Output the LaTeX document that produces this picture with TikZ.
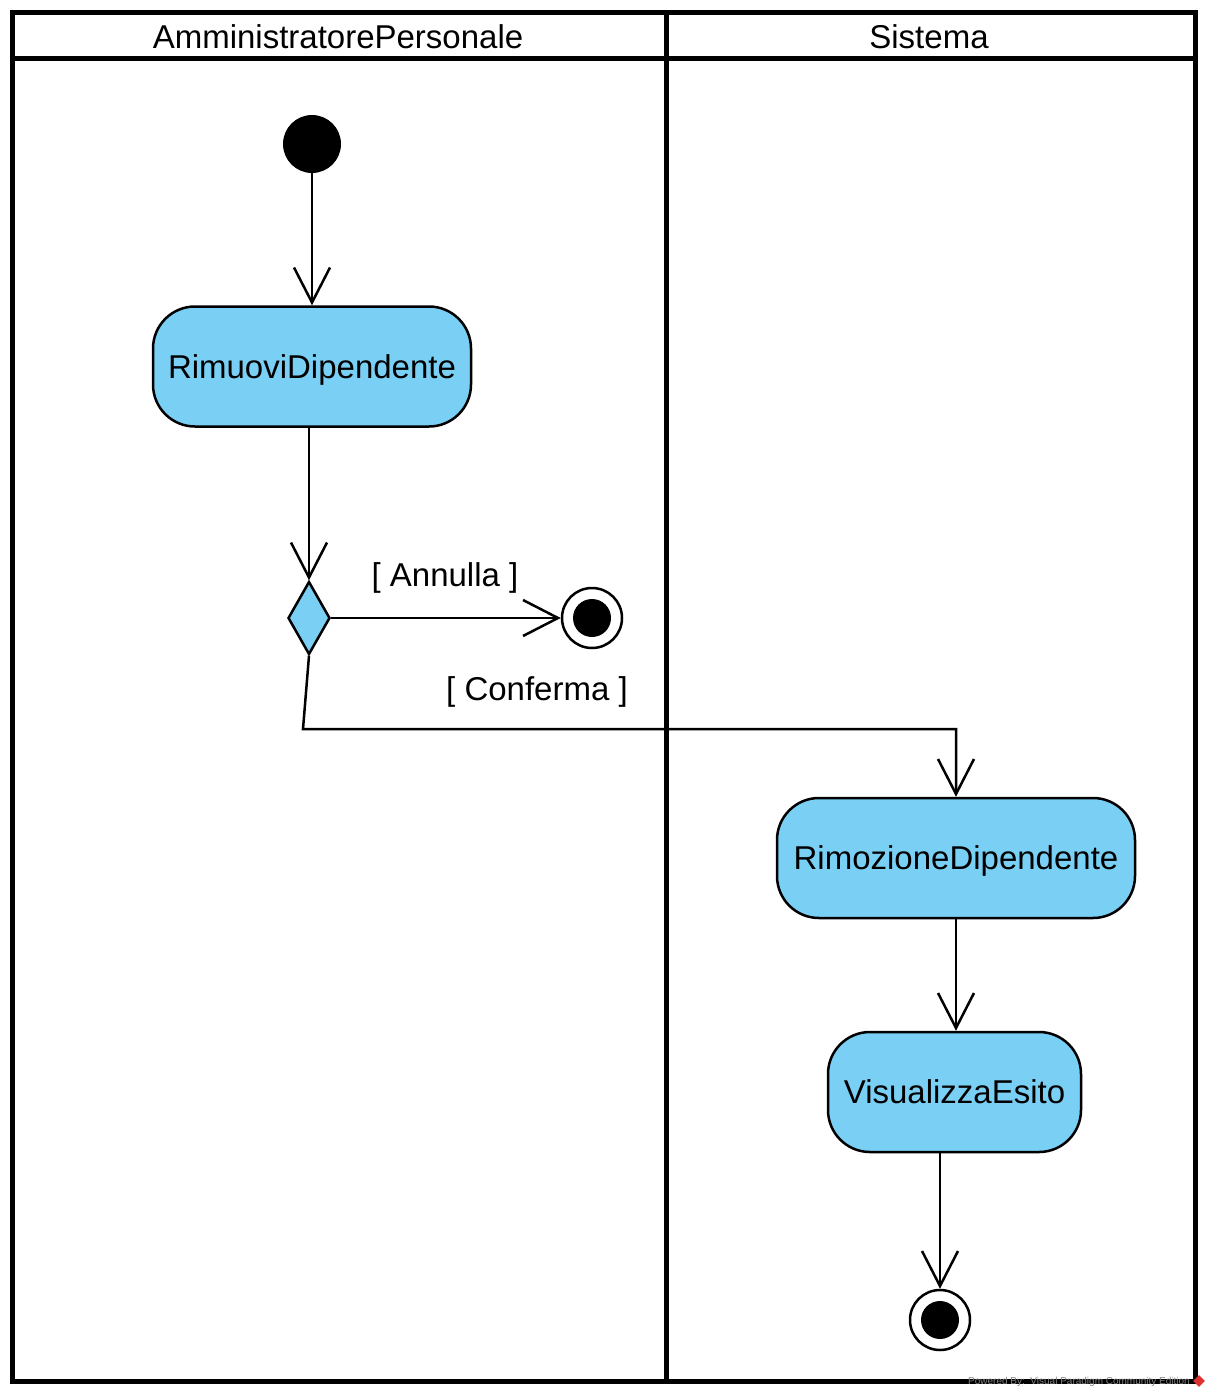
\documentclass[tikz,border=0pt]{standalone}
\usepackage{fontspec}
\setmainfont{Liberation Sans}
\usetikzlibrary{arrows.meta,shapes.geometric}
\definecolor{actfill}{RGB}{122,207,245}
\definecolor{vpred}{RGB}{220,50,50}
\begin{document}
\begin{tikzpicture}[x=1pt,y=-1pt,
  font=\fontsize{33}{40}\selectfont,
  frameline/.style={line width=5pt},
  conn/.style={line width=2.5pt},
  arr/.style={conn,-{Straight Barb[length=35pt,width=36pt,line width=2.5pt]}},
  act/.style={draw,line width=2.5pt,fill=actfill,rounded corners=42pt,inner sep=0pt,minimum height=120pt,text depth=0pt},
  initnode/.style={circle,fill=black,minimum size=58pt,inner sep=0pt},
  finalnode/.style={circle,draw,line width=2.5pt,fill=white,minimum size=60pt,inner sep=0pt},
  decision/.style={diamond,draw,fill=actfill,line width=2.5pt,minimum width=42pt,minimum height=73pt,inner sep=0pt},
  guard/.style={inner sep=0pt,text depth=0pt}]
\useasboundingbox (0,0) rectangle (1212,1398);
% swimlane frame
\draw[frameline] (12,12) rectangle (1195,1381);
\draw[frameline] (12,58) -- (1195,58);
\draw[frameline] (666,12) -- (666,1381);
\node (hA) at (338,37) {AmministratorePersonale};
\node (hS) at (929,37) {Sistema};
% nodes
\node[initnode] (init) at (312,144) {};
\node[act,minimum width=318pt] (rim) at (312,366.5) {RimuoviDipendente};
\node[decision] (dec) at (309,618) {};
\node[finalnode] (fin1) at (592,618) {};
\fill (fin1.center) circle[radius=19pt];
\node[act,minimum width=358pt] (rimoz) at (956,858) {RimozioneDipendente};
\node[act,minimum width=253pt] (vis) at (954.5,1092) {VisualizzaEsito};
\node[finalnode] (fin2) at (940,1320) {};
\fill (fin2.center) circle[radius=19pt];
% guards
\node[guard] (gA) at (445,575) {[ Annulla ]};
\node[guard] (gC) at (537,689) {[ Conferma ]};
% connectors
\coordinate (bend) at (303,729);
\draw[arr] (init) -- (rim.north);
\draw[arr] (rim.south -| dec.north) -- (dec.north);
\draw[arr] (dec.east) -- (fin1.west);
\draw[arr] (dec.south) -- (bend) -- (bend -| rimoz.north) -- (rimoz.north);
\draw[arr] (rimoz.south) -- (rimoz.south |- vis.north);
\draw[arr] (vis.south -| fin2.north) -- (fin2.north);
% watermark
\node[text=gray,font=\fontsize{10}{11}\selectfont,anchor=east,inner sep=0pt] (wm) at (1190,1382) {Powered By:\ \ Visual Paradigm Community Edition};
\node[diamond,fill=vpred,minimum size=12pt,inner sep=0pt] (logo) at (1199,1381) {};
\end{tikzpicture}
\end{document}
